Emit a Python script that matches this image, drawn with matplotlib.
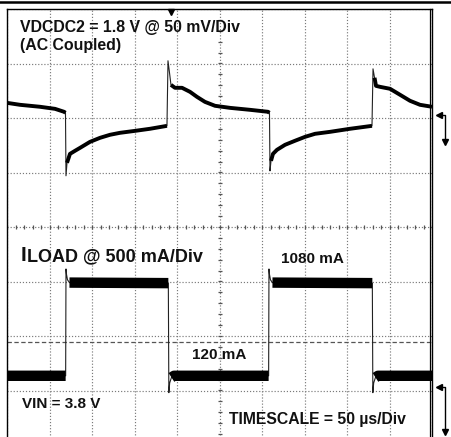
import matplotlib
matplotlib.use("Agg")
import numpy as np
import matplotlib.pyplot as plt

# ---------------- data ----------------
# VDCDC2 output voltage, AC coupled: time (us) and deviation (mV)
V_T = [0.0, 15.3, 38.8, 56.5, 67.1, 68.8, 69.4, 70.6, 74.1, 80.0, 85.9, 97.6,
       109.4, 121.2, 132.9, 150.6, 168.2, 188.2, 189.4, 191.2, 192.9, 197.6,
       205.9, 215.3, 223.5, 232.9, 244.7, 262.4, 285.9, 307.1, 308.8, 309.4,
       310.6, 312.9, 317.6, 327.1, 338.8, 350.6, 362.4, 380.0, 403.5, 429.4,
       430.6, 432.4, 434.1, 438.8, 450.6, 462.4, 474.1, 485.9, 500.0]
V_MV = [11.9, 10.1, 8.3, 6.4, 3.7, 2.8, -55.0, -43.1, -34.9, -32.1, -29.4, -23.9,
        -20.2, -17.4, -15.6, -13.8, -11.9, -9.2, 50.5, 39.4, 28.4, 25.7,
        25.7, 22.0, 17.4, 12.8, 9.2, 7.3, 5.5, 3.7, 2.8, -50.5,
        -41.3, -34.9, -31.2, -26.6, -22.9, -19.3, -16.5, -14.7, -11.9, -9.2,
        43.1, 34.9, 27.5, 26.6, 24.8, 19.3, 13.8, 10.1, 8.3]

# Load current: time (us) and current (mA)
I_T = [0.0, 69.0, 69.4, 70.0, 71.2, 73.5, 189.8, 190.4, 191.4, 193.5, 196.5,
       307.8, 308.2, 308.8, 310.0, 312.3, 429.8, 430.4, 431.4, 433.5, 436.5, 500.0]
I_MA = [110, 110, 1090, 1040, 990, 965, 960, -45, 45, 95, 110,
        110, 1090, 1040, 990, 965, 960, -45, 45, 95, 110, 110]
I_HIGH, I_LOW = 962, 110

# channel scales and positions (divisions from screen centre)
V_SCALE, V_POS = 50.0, 2.04       # mV/div
I_SCALE, I_POS = 500.0, -2.95     # mA/div
TIME_PER_DIV = 50.0               # us/div

LABELS = [
    ("VDCDC2 = 1.8 V @ 50 mV/Div", 20.5, 32, 11.4),
    ("(AC Coupled)", 20.5, 50, 11.4),
    ("1080 mA", 281, 263, 11.0),
    ("120 mA", 192, 359, 11.0),
    ("VIN = 3.8 V", 22.5, 407.5, 11.0),
    ("TIMESCALE = 50 \u00b5s/Div", 229, 424, 11.3),
]

# ---------------- figure ----------------
W, H, DPI = 451, 437, 100
fig = plt.figure(figsize=(W / DPI, H / DPI), dpi=DPI)
fig.patch.set_facecolor("white")

PX_L, PX_T = 7.0, 9.0
DIV_X, DIV_Y = 42.5, 54.5
ax = fig.add_axes([PX_L / W, (H - (PX_T + 8 * DIV_Y)) / H,
                   10 * DIV_X / W, 8 * DIV_Y / H])
ax.set_xlim(0, 10 * TIME_PER_DIV)
ax.set_ylim(-4, 4)
ax.set_xticks(np.arange(0, 10 * TIME_PER_DIV + 1, TIME_PER_DIV))
ax.set_yticks(np.arange(-4, 5, 1))
ax.grid(True, color="#7a7a7a", linestyle=(0, (1, 1.6)), lw=0.85)
ax.tick_params(length=0, labelbottom=False, labelleft=False)
for s in ("left", "top", "right"):
    ax.spines[s].set_color("black")
    ax.spines[s].set_linewidth(1.0)
ax.spines["bottom"].set_visible(False)

# centre graticule ticks
yy = np.arange(-4, 4.001, 0.2)
ax.plot(np.full_like(yy, 5 * TIME_PER_DIV), yy, ls="none", marker="_",
        ms=3.2, mew=0.9, color="#555555", zorder=2)
xx = np.arange(0, 10 * TIME_PER_DIV + 0.1, TIME_PER_DIV / 5)
ax.plot(xx, np.zeros_like(xx), ls="none", marker="|",
        ms=3.0, mew=0.9, color="#555555", zorder=2)

# dashed reference line
ax.axhline((226 - 341) / DIV_Y, color="#555555", lw=0.9,
           linestyle=(0, (3.5, 2)), zorder=2)


def thick_path(t, y, max_dt, max_dy):
    t = np.asarray(t, float)
    y = np.asarray(y, float)
    tt, yv = [t[0]], [y[0]]
    for i in range(1, len(t)):
        if (t[i] - t[i - 1]) < max_dt and abs(y[i] - y[i - 1]) > max_dy:
            tt.append(np.nan)
            yv.append(np.nan)
        tt.append(t[i])
        yv.append(y[i])
    return np.array(tt), np.array(yv)


# voltage trace
v_div = V_POS + np.asarray(V_MV) / V_SCALE
ax.plot(V_T, v_div, color="#222222", lw=0.8, zorder=3)
tv, yv = thick_path(V_T, V_MV, 2.0, 8.0)
ax.plot(tv, V_POS + yv / V_SCALE, color="black", lw=2.8,
        solid_capstyle="butt", zorder=4)

# current trace
i_arr = np.asarray(I_MA, float)
ax.plot(I_T, I_POS + i_arr / I_SCALE, color="#222222", lw=0.8, zorder=3)
mask = (np.abs(i_arr - I_HIGH) < 20) | (np.abs(i_arr - I_LOW) < 20)
i_band = np.where(mask, i_arr, np.nan)
ax.plot(I_T, I_POS + i_band / I_SCALE, color="black", lw=7.5,
        solid_capstyle="butt", zorder=4)

# ---------------- overlay (pixel coordinates) ----------------
ov = fig.add_axes([0, 0, 1, 1], zorder=5)
ov.set_xlim(0, W)
ov.set_ylim(H, 0)
ov.axis("off")
ov.patch.set_alpha(0)

ov.plot([0, W], [2.2, 2.2], color="black", lw=1.8)
ov.plot([429.5, 429.5], [PX_T, H], color="black", lw=0.9)
ov.plot(170.7, 12.3, marker="v", ms=4.2, color="black")

for top, bot in ((115, 142), (387, 432)):
    ov.plot([439.5, 445, 445], [top, top, bot], color="black", lw=1.0)
    ov.plot(439.2, top, marker="<", ms=4, color="black")
    ov.plot(445, bot, marker="v", ms=4.5, color="black")

FONT = dict(family="Liberation Sans", weight="bold", color="#111111")
for txt, x, y, fs in LABELS:
    ov.text(x, y, txt, ha="left", va="baseline", fontsize=fs, **FONT)

ov.text(20.5, 261, "I", ha="left", va="baseline", fontsize=15.0, **FONT)
ov.text(27.0, 261, "LOAD @ 500 mA/Div", ha="left", va="baseline",
        fontsize=13.0, **FONT)

fig.savefig("out.png", dpi=DPI)
